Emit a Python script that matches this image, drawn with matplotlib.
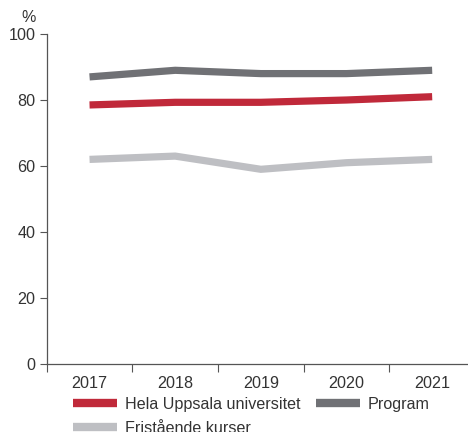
import matplotlib
matplotlib.use("Agg")
import matplotlib.pyplot as plt
from matplotlib.lines import Line2D

plt.rcParams['font.family'] = ['Liberation Sans', 'DejaVu Sans']

years = ["2017", "2018", "2019", "2020", "2021"]
hela = [78.5, 79.3, 79.3, 80.0, 81.0]
program = [87.0, 89.0, 88.0, 88.0, 89.0]
fristaende = [62.0, 63.0, 59.0, 61.0, 62.0]
series_names = ["Hela Uppsala universitet", "Program", "Fristående kurser"]
colors = ["#C0293A", "#707175", "#BEBFC3"]
y_ticks = [0, 20, 40, 60, 80, 100]

FS = 11.6
W, H = 468, 432
fig = plt.figure(figsize=(W / 100, H / 100), dpi=100)
ax = fig.add_axes([46.7 / W, 1 - 364 / H, (475 - 46.7) / W, (364 - 34) / H])

x = list(range(len(years)))
ax.plot(x, fristaende, color=colors[2], lw=5.2, solid_joinstyle='miter', solid_capstyle='butt')
ax.plot(x, program, color=colors[1], lw=5.2, solid_joinstyle='miter', solid_capstyle='butt')
ax.plot(x, hela, color=colors[0], lw=5.2, solid_joinstyle='miter', solid_capstyle='butt')

ax.set_xlim(-0.5, len(years) - 0.5)
ax.set_ylim(0, 100)
ax.set_yticks(y_ticks)
ax.set_yticklabels([str(v) for v in y_ticks])
ax.set_xticks(x)
ax.set_xticklabels(years)
ax.set_xticks([i - 0.5 for i in range(len(years) + 1)], minor=True)
ax.tick_params(axis='x', which='major', length=0, pad=9, labelsize=FS, colors='#333333')
ax.tick_params(axis='x', which='minor', length=6, width=0.8, color='#555555')
ax.tick_params(axis='y', length=5, width=0.8, color='#555555', labelsize=FS, labelcolor='#333333', pad=3)
for s in ['top', 'right']:
    ax.spines[s].set_visible(False)
for s in ['left', 'bottom']:
    ax.spines[s].set_color('#555555')
    ax.spines[s].set_linewidth(0.9)

fig.text(29 / W, 1 - 17 / H, "%", ha='center', va='center', fontsize=FS, color='#333333')

order = [0, 2, 1]
handles = [Line2D([], [], color=colors[i], lw=6, solid_capstyle='butt') for i in order]
labels = [series_names[i] for i in order]
fig.legend(handles, labels, loc='upper left', bbox_to_anchor=(73 / W, 1 - 397 / H),
           ncol=2, frameon=False, fontsize=FS, handlelength=2.7, handletextpad=0.5,
           columnspacing=1.0, labelspacing=0.55, borderpad=0, borderaxespad=0,
           labelcolor='#333333')

fig.savefig("out.png", dpi=100)
